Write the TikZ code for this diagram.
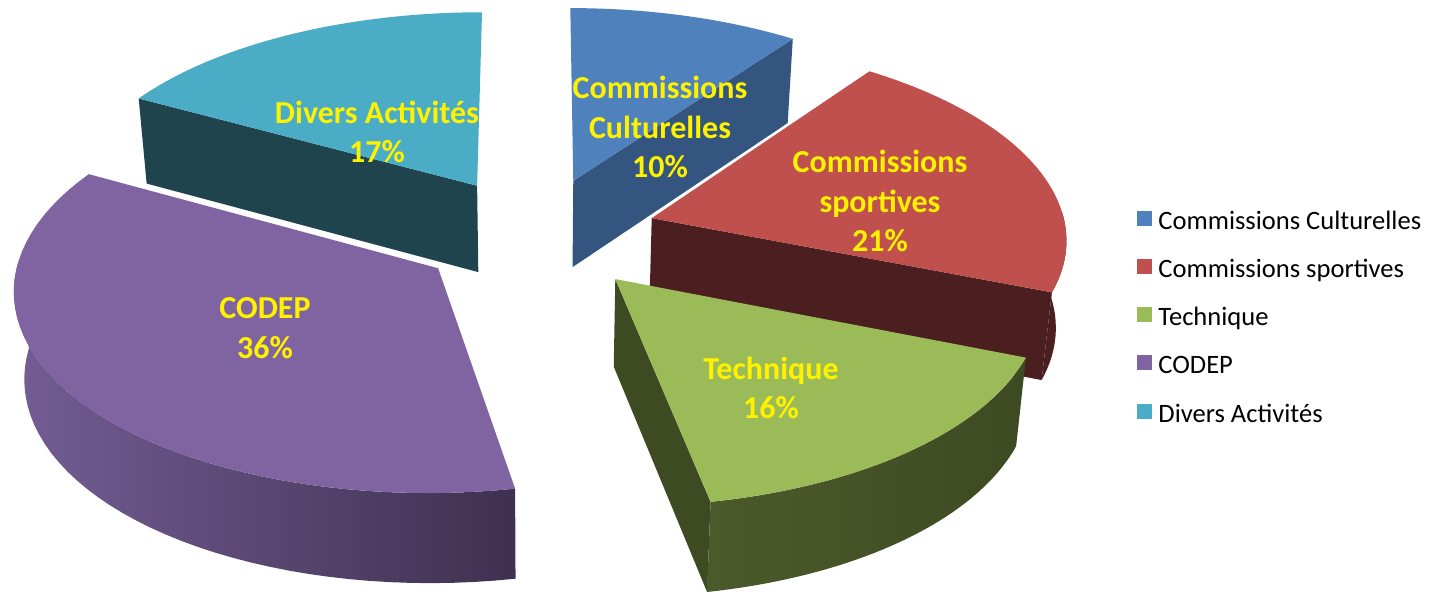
\documentclass[tikz,border=0pt]{standalone}
\usepackage{fontspec}
\setmainfont{Carlito}
\usetikzlibrary{positioning}

\definecolor{cultTop}{HTML}{4F81BD}
\definecolor{cultSide}{HTML}{34557F}
\definecolor{sportTop}{HTML}{C0504D}
\definecolor{sportSide}{HTML}{4B1E20}
\definecolor{techTop}{HTML}{9BBB59}
\definecolor{techSide}{HTML}{3E4A22}
\definecolor{techSideL}{HTML}{4B5A2B}
\definecolor{codepTop}{HTML}{8064A2}
\definecolor{codepSideL}{HTML}{735D94}
\definecolor{codepSideR}{HTML}{3F304F}
\definecolor{diversTop}{HTML}{4BACC6}
\definecolor{diversSide}{HTML}{1F444E}

% pie pieces, apex offset kept in \uo,\vo
\newcommand{\sliceapex}[1]{%
  \pgfmathsetmacro{\uo}{0.29*cos(#1)}\pgfmathsetmacro{\vo}{0.29*sin(#1)}}
\newcommand{\slicetop}[3]{%
  \fill[#1] ({PX(\uo,\vo)},{PY(\uo,\vo)})
    -- plot[domain=#2:#3,samples=50] ({PX(\uo+cos(\x),\vo+sin(\x))},{PY(\uo+cos(\x),\vo+sin(\x))})
    -- cycle;}
\newcommand{\sliceside}[3]{%
  \path[#1] plot[domain=#2:#3,samples=40] ({PX(\uo+cos(\x),\vo+sin(\x))},{PY(\uo+cos(\x),\vo+sin(\x))})
    -- plot[domain=#3:#2,samples=40] ({BX(\uo+cos(\x),\vo+sin(\x))},{BY(\uo+cos(\x),\vo+sin(\x))})
    -- cycle;}
\newcommand{\sliceface}[2]{%
  \fill[#1] ({PX(\uo,\vo)},{PY(\uo,\vo)})
    -- ({PX(\uo+cos(#2),\vo+sin(#2))},{PY(\uo+cos(#2),\vo+sin(#2))})
    -- ({BX(\uo+cos(#2),\vo+sin(#2))},{BY(\uo+cos(#2),\vo+sin(#2))})
    -- ({BX(\uo,\vo)},{BY(\uo,\vo)}) -- cycle;}

\begin{document}
\begin{tikzpicture}[x=0.01cm, y=-0.01cm,
    declare function={
      PX(\u,\v)=537+415*\u/(1+0.0913*\v);
      PY(\u,\v)=234-197.7*\v/(1+0.0913*\v);
      BX(\u,\v)=537+0.98*(PX(\u,\v)-537);
      BY(\u,\v)=PY(\u,\v)+87*(1-0.03*\v);
    },
    slicelabel/.style={text=yellow, font=\fontsize{9.1pt}{11.2pt}\selectfont\bfseries, align=center, inner sep=0pt},
    legsq/.style={minimum size=0.15cm, inner sep=0pt},
    legtext/.style={font=\fontsize{7.55pt}{9pt}\selectfont, inner sep=0pt, text height=0.644em, text depth=0pt}]
	\useasboundingbox (0,0) rectangle (1437,594);
	
	% Commissions Culturelles
	\sliceapex{72}
	\sliceface{cultSide}{54}
	\slicetop{cultTop}{54}{90}
	
	% Divers Activites
	\sliceapex{120.6}
	\sliceface{diversSide}{151.2}
	\slicetop{diversTop}{90}{151.2}
	
	% Commissions sportives
	\sliceapex{16.2}
	\sliceface{sportSide}{-21.6}
	\sliceside{fill=sportSide}{-21.6}{2}
	\slicetop{sportTop}{-21.6}{54}
	
	% CODEP
	\sliceapex{216}
	\sliceside{left color=codepSideL, right color=codepSideR}{178}{280.8}
	\slicetop{codepTop}{151.2}{280.8}
	
	% Technique
	\sliceapex{-50.4}
	\sliceface{techSide}{-79.2}
	\sliceside{left color=techSideL, middle color=techSide, right color=techSide}{-79.2}{-21.6}
	\slicetop{techTop}{-79.2}{-21.6}
	
	\node[slicelabel] (lblCult) at (660,127) {Commissions\\Culturelles\\10\%};
	\node[slicelabel] (lblSport) at (880,201) {Commissions\\sportives\\21\%};
	\node[slicelabel] (lblTech) at (771,388) {Technique\\16\%};
	\node[slicelabel] (lblCodep) at (265,328) {CODEP\\36\%};
	\node[slicelabel] (lblDivers) at (377,132) {Divers Activités\\17\%};
	
	% legend
	\node[legsq, fill=cultTop] (sqCult) at (1144,218) {};
	\node[legtext, right=0.055cm of sqCult] (txtCult) {Commissions Culturelles};
	\node[legsq, fill=sportTop] (sqSport) at (1144,266) {};
	\node[legtext, right=0.055cm of sqSport] (txtSport) {Commissions sportives};
	\node[legsq, fill=techTop] (sqTech) at (1144,314) {};
	\node[legtext, right=0.055cm of sqTech] (txtTech) {Technique};
	\node[legsq, fill=codepTop] (sqCodep) at (1144,362) {};
	\node[legtext, right=0.055cm of sqCodep] (txtCodep) {CODEP};
	\node[legsq, fill=diversTop] (sqDivers) at (1144,411) {};
	\node[legtext, right=0.055cm of sqDivers] (txtDivers) {Divers Activités};
\end{tikzpicture}
\end{document}
